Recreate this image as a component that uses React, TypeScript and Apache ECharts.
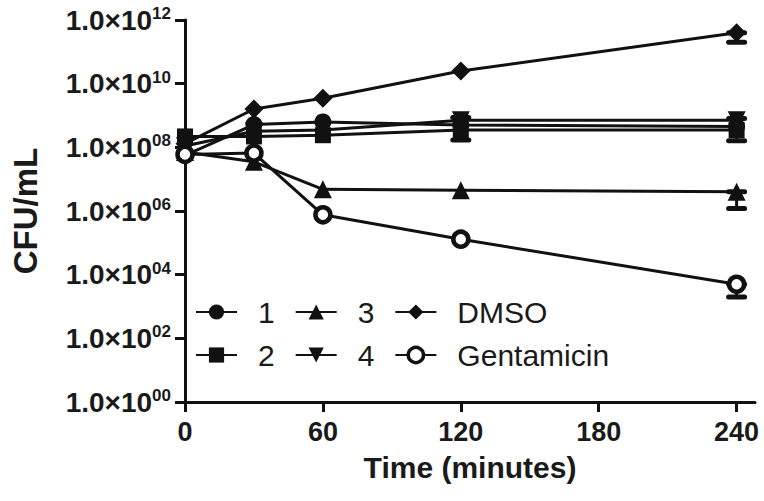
import React, { useEffect, useRef } from "react";
import * as echarts from "echarts";

const FONT = "'Liberation Sans', Arial, Helvetica, sans-serif";
const INK = "#111";

const times = [0, 30, 60, 120, 240];
const s1 = [5.6e7, 5.2e8, 6.3e8, 5.0e8, 4.5e8];
const s2 = [2.2e8, 2.2e8, 2.4e8, 3.5e8, 3.5e8];
const s3 = [7.1e7, 3.5e7, 4.8e6, 4.5e6, 4.0e6];
const s4 = [1.1e8, 3.2e8, 3.5e8, 7.1e8, 7.1e8];
const dmso = [1.3e8, 1.6e9, 3.5e9, 2.5e10, 4.0e11];
const gent = [6.0e7, 6.6e7, 7.6e5, 1.3e5, 5.0e3];

// error bars: time, lower, upper
const errTimes = [120, 240, 240, 240, 240];
const errLow = [1.7e8, 1.6e8, 2.0e11, 1.2e6, 2.0e3];
const errHigh = [8.7e8, 8.0e8, 4.0e11, 4.0e6, 5.0e3];

const xTicks = [0, 60, 120, 180, 240];
const legendRow1 = ["1", "3", "DMSO"];
const legendRow2 = ["2", "4", "Gentamicin"];

const pairs = (vals: number[]) => times.map((t, i) => [t, vals[i]]);

export default function App() {
  const ref = useRef<HTMLDivElement>(null);
  useEffect(() => {
    const chart = echarts.init(ref.current!, null, { renderer: "svg" });
    const lineBase = (name: string, vals: number[], symbol: string, size: number | number[], extra: any = {}) => ({
      name,
      type: "line",
      data: pairs(vals),
      symbol,
      symbolSize: size,
      lineStyle: { color: INK, width: 3 },
      itemStyle: { color: INK },
      z: 3,
      ...extra,
    });
    const legendCommon = {
      left: 195,
      orient: "horizontal",
      padding: 0,
      itemWidth: 41,
      itemHeight: 19,
      itemGap: 20,
      textStyle: { fontFamily: FONT, fontSize: 30, color: "#1a1a1a", padding: [0, 0, 0, 16] },
    };
    const legendItems = (names: string[]) =>
      names.map((n) =>
        n === "Gentamicin"
          ? { name: n, itemStyle: { color: "#fff", borderColor: INK, borderWidth: 3.5 } }
          : { name: n }
      );
    chart.setOption({
      animation: false,
      backgroundColor: "#fff",
      grid: { left: 185, right: 9, top: 20, bottom: 99 },
      legend: [
        { ...legendCommon, top: 297, data: legendItems(legendRow1) },
        { ...legendCommon, top: 340, data: legendItems(legendRow2) },
      ],
      xAxis: {
        type: "value",
        min: 0,
        max: 248,
        interval: 60,
        name: "Time (minutes)",
        nameLocation: "middle",
        nameGap: 50,
        nameTextStyle: { fontFamily: FONT, fontSize: 30, fontWeight: "bold", color: "#1a1a1a" },
        axisLine: { lineStyle: { color: INK, width: 3 } },
        axisTick: { show: true, length: 10, lineStyle: { color: INK, width: 3 }, customValues: xTicks },
        axisLabel: {
          customValues: xTicks,
          margin: 16,
          fontFamily: FONT,
          fontSize: 27,
          fontWeight: "bold",
          color: "#1a1a1a",
        },
        splitLine: { show: false },
      },
      yAxis: {
        type: "log",
        logBase: 100,
        min: 1,
        max: 1e12,
        splitNumber: 6,
        name: "CFU/mL",
        nameLocation: "middle",
        nameGap: 143,
        nameTextStyle: { fontFamily: FONT, fontSize: 33, fontWeight: "bold", color: "#1a1a1a" },
        axisLine: { show: true, lineStyle: { color: INK, width: 3 } },
        axisTick: { show: true, length: 10, lineStyle: { color: INK, width: 3 } },
        axisLabel: {
          margin: 14,
          formatter: (v: number) => {
            const e = Math.round(Math.log10(v));
            return `{a|1.0×10}{b|${String(e).padStart(2, "0")}}`;
          },
          rich: {
            a: { fontFamily: FONT, fontSize: 28, fontWeight: "bold", color: "#1a1a1a", lineHeight: 30 },
            b: { fontFamily: FONT, fontSize: 17, fontWeight: "bold", color: "#1a1a1a", verticalAlign: "top", lineHeight: 20 },
          },
        },
        splitLine: { show: false },
      },
      series: [
        {
          type: "custom",
          name: "err",
          z: 2,
          data: errTimes.map((t, i) => [t, errLow[i], errHigh[i]]),
          encode: { x: 0, y: [1, 2] },
          renderItem: (params: any, api: any) => {
            const x = api.value(0);
            const lo = api.coord([x, api.value(1)]);
            const hi = api.coord([x, api.value(2)]);
            const w = 8;
            return {
              type: "group",
              children: [
                { type: "line", shape: { x1: lo[0], y1: lo[1], x2: hi[0], y2: hi[1] }, style: { stroke: INK, lineWidth: 3 } },
                { type: "line", shape: { x1: lo[0] - w, y1: lo[1], x2: lo[0] + w, y2: lo[1] }, style: { stroke: INK, lineWidth: 5, lineCap: "round" } },
                { type: "line", shape: { x1: hi[0] - w, y1: hi[1], x2: hi[0] + w, y2: hi[1] }, style: { stroke: INK, lineWidth: 5, lineCap: "round" } },
              ],
            };
          },
        },
        lineBase("1", s1, "circle", 17),
        lineBase("2", s2, "rect", 16),
        lineBase("3", s3, "triangle", 18),
        lineBase("4", s4, "triangle", 18, { symbolRotate: 180 }),
        lineBase("DMSO", dmso, "diamond", 19),
        lineBase("Gentamicin", gent, "circle", 15, {
          itemStyle: { color: "#fff", borderColor: INK, borderWidth: 4.5 },
          z: 4,
        }),
      ],
    });
    return () => chart.dispose();
  }, []);
  return <div ref={ref} style={{ position: "absolute", left: 0, top: 0, width: 764, height: 501 }} />;
}
